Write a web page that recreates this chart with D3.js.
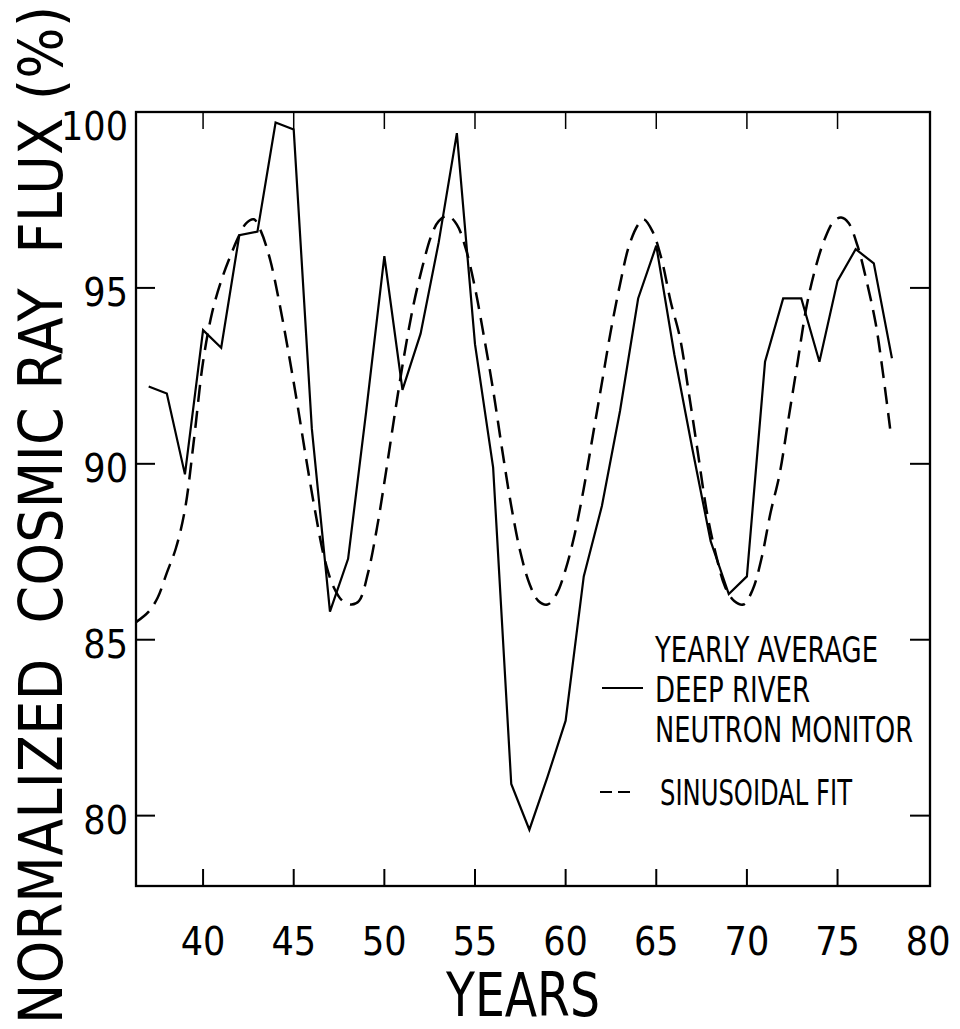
<!DOCTYPE html>
<html>
<head>
<meta charset="utf-8">
<script src="https://cdn.jsdelivr.net/npm/d3@7"></script>
<style>
	body { margin: 0; background: #fff; }
	svg text { font-family: "DejaVu Sans Condensed", "Liberation Sans Narrow", sans-serif; font-stretch: condensed; fill: #000; }
</style>
</head>
<body>
<svg id="chart" width="960" height="1029"></svg>
<script>
// yearly average, Deep River neutron monitor (year 19xx, %)
var obsYears = [37, 38, 39, 40, 41, 42, 43, 44, 45, 46, 47, 48, 49, 50, 51, 52, 53, 54, 55, 56, 57,
	58, 59, 60, 61, 62, 63, 64, 65, 66, 67, 68, 69, 70, 71, 72, 73, 74, 75, 76, 77, 78];
var obsValues = [92.2, 92.0, 89.7, 93.8, 93.3, 96.5, 96.6, 99.7, 99.5, 91.0, 85.8, 87.3, 91.5, 95.9, 92.1,
	93.7, 96.3, 99.4, 93.4, 89.9, 80.9, 79.6, 81.1, 82.7, 86.8, 88.8, 91.5, 94.7, 96.2, 93.1, 90.4,
	87.8, 86.3, 86.8, 92.9, 94.7, 94.7, 92.9, 95.2, 96.1, 95.7, 93.0];

// sinusoidal fit
var fitYears = [36.3, 37.0, 37.5, 38.0, 38.5, 39.0, 39.5, 40.0, 40.5, 41.0, 41.5, 42.0, 42.4, 42.8, 43.2,
	43.7, 44.2, 44.7, 45.2, 45.7, 46.2, 46.7, 47.2, 47.7, 48.2, 48.6, 49.1, 49.6, 50.1, 50.6, 51.1, 51.6,
	52.1, 52.6, 53.0, 53.5, 54.0, 54.5, 55.0, 55.5, 56.0, 56.5, 57.0, 57.5, 58.0, 58.5, 59.0, 59.5, 60.0,
	60.5, 61.0, 61.5, 62.0, 62.5, 63.0, 63.5, 64.0, 64.3, 64.8, 65.3, 65.8, 66.3, 66.8, 67.3, 67.8, 68.3,
	68.8, 69.3, 69.8, 70.3, 70.8, 71.3, 71.8, 72.3, 72.8, 73.3, 73.8, 74.3, 74.8, 75.2, 75.6, 76.1, 76.6,
	77.1, 77.5, 77.9];
var fitValues = [85.5, 85.8, 86.2, 86.9, 87.6, 88.7, 90.7, 92.9, 94.3, 95.2, 95.9, 96.5, 96.85, 96.95, 96.6,
	95.8, 94.6, 93.2, 91.7, 90.1, 88.6, 87.3, 86.5, 86.1, 86.0, 86.1, 86.9, 88.2, 89.8, 91.5, 93.1, 94.5,
	95.6, 96.5, 96.9, 97.05, 96.8, 96.1, 95.0, 93.6, 92.1, 90.4, 88.8, 87.5, 86.6, 86.1, 86.0, 86.3, 87.0,
	88.0, 89.3, 90.8, 92.3, 93.8, 95.1, 96.2, 96.8, 96.95, 96.6, 95.8, 94.6, 93.6, 92.0, 90.3, 88.6, 87.4,
	86.5, 86.1, 86.0, 86.4, 87.3, 88.6, 89.7, 91.3, 92.9, 94.5, 95.6, 96.4, 96.9, 97.0, 96.85, 96.2, 95.2,
	94.0, 92.6, 91.0];

var xTicks = [40, 45, 50, 55, 60, 65, 70, 75, 80];
var yTicks = [80, 85, 90, 95, 100];
var legendLines = ["YEARLY AVERAGE", "DEEP RIVER", "NEUTRON MONITOR", "SINUSOIDAL FIT"];

var svg = d3.select("#chart");
var plotLeft = 136, plotRight = 930, plotTop = 112, plotBottom = 886;

var x = d3.scaleLinear().domain([36.3, 80.1]).range([plotLeft, plotRight]);
var y = d3.scaleLinear().domain([78, 100]).range([plotBottom, plotTop]);

// frame
svg.append("rect")
	.attr("x", plotLeft).attr("y", plotTop)
	.attr("width", plotRight - plotLeft).attr("height", plotBottom - plotTop)
	.attr("fill", "none").attr("stroke", "#000").attr("stroke-width", 2.3);

// ticks, all pointing inward
var tickLen = 17;
var innerX = xTicks.filter(function(d) { return d < 80; });
var innerY = yTicks.filter(function(d) { return d < 100; });

svg.selectAll(".xtick-b").data(innerX).enter().append("line")
	.attr("x1", function(d) { return x(d); }).attr("x2", function(d) { return x(d); })
	.attr("y1", plotBottom).attr("y2", plotBottom - tickLen)
	.attr("stroke", "#000").attr("stroke-width", 2);
svg.selectAll(".xtick-t").data(innerX).enter().append("line")
	.attr("x1", function(d) { return x(d); }).attr("x2", function(d) { return x(d); })
	.attr("y1", plotTop).attr("y2", plotTop + tickLen)
	.attr("stroke", "#000").attr("stroke-width", 1.5);
svg.selectAll(".ytick-l").data(innerY).enter().append("line")
	.attr("x1", plotLeft).attr("x2", plotLeft + tickLen + 2)
	.attr("y1", function(d) { return y(d); }).attr("y2", function(d) { return y(d); })
	.attr("stroke", "#000").attr("stroke-width", 2);
svg.selectAll(".ytick-r").data(innerY).enter().append("line")
	.attr("x1", plotRight).attr("x2", plotRight - tickLen - 3)
	.attr("y1", function(d) { return y(d); }).attr("y2", function(d) { return y(d); })
	.attr("stroke", "#000").attr("stroke-width", 2);

// tick labels
svg.selectAll(".xlabel").data(xTicks).enter().append("text")
	.attr("x", function(d) { return x(d); })
	.attr("y", 955)
	.attr("text-anchor", "middle")
	.attr("font-size", 39)
	.text(function(d) { return d; });

svg.selectAll(".ylabel").data(yTicks).enter().append("text")
	.attr("x", 128)
	.attr("y", function(d) { return y(d) + (d === 100 ? 28 : 18); })
	.attr("text-anchor", "end")
	.attr("font-size", 39)
	.text(function(d) { return d; });

// axis titles
svg.append("text")
	.attr("x", 523).attr("y", 1016)
	.attr("text-anchor", "middle")
	.attr("font-size", 60)
	.attr("textLength", 154)
	.attr("lengthAdjust", "spacingAndGlyphs")
	.text("YEARS");

svg.append("text")
	.attr("transform", "translate(62,1024) rotate(-90)")
	.attr("font-size", 60)
	.attr("textLength", 1018)
	.attr("lengthAdjust", "spacing")
	.style("white-space", "pre")
	.text("NORMALIZED  COSMIC RAY  FLUX (%)");

// data
var obs = obsYears.map(function(d, i) { return [d, obsValues[i]]; });
var fit = fitYears.map(function(d, i) { return [d, fitValues[i]]; });

var line = d3.line()
	.x(function(d) { return x(d[0]); })
	.y(function(d) { return y(d[1]); });

svg.append("path")
	.datum(fit)
	.attr("d", line.curve(d3.curveCatmullRom))
	.attr("fill", "none")
	.attr("stroke", "#000")
	.attr("stroke-width", 2.5)
	.attr("stroke-dasharray", "17,9");

svg.append("path")
	.datum(obs)
	.attr("d", line.curve(d3.curveLinear))
	.attr("fill", "none")
	.attr("stroke", "#000")
	.attr("stroke-width", 2.2)
	.attr("stroke-linejoin", "miter");

var legendY = [662, 702, 742, 805];
var legendX = [655, 655, 655, 660];
var legendW = [223, 155, 258, 192];
svg.selectAll(".legend").data(legendLines).enter().append("text")
	.attr("x", function(d, i) { return legendX[i]; })
	.attr("y", function(d, i) { return legendY[i]; })
	.attr("font-size", 35)
	.attr("textLength", function(d, i) { return legendW[i]; })
	.attr("lengthAdjust", "spacingAndGlyphs")
	.text(function(d) { return d; });

svg.append("line")
	.attr("x1", 602).attr("x2", 643).attr("y1", 688).attr("y2", 688)
	.attr("stroke", "#000").attr("stroke-width", 2);
svg.append("line")
	.attr("x1", 600).attr("x2", 630).attr("y1", 792).attr("y2", 792)
	.attr("stroke", "#000").attr("stroke-width", 2)
	.attr("stroke-dasharray", "12,6");
</script>
</body>
</html>
